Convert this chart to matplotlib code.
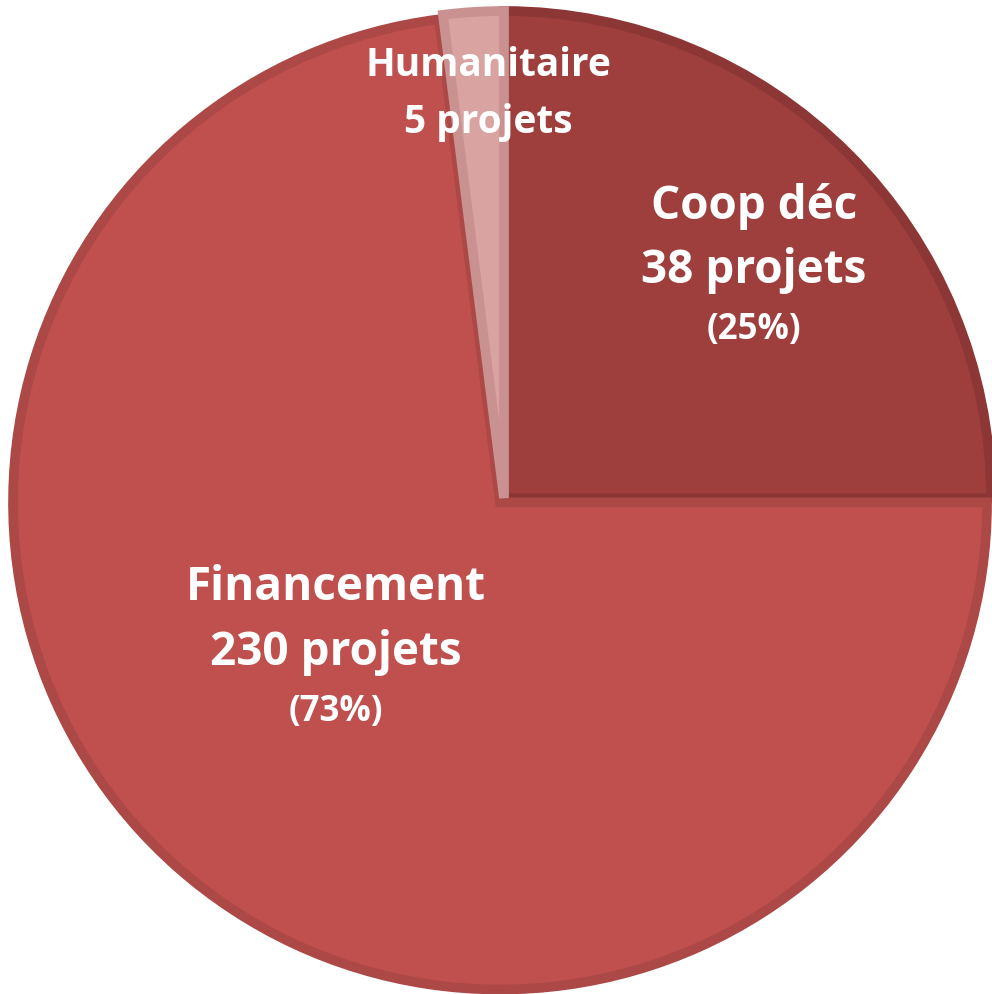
import matplotlib.pyplot as plt

# Data
categories = ['Coop déc', 'Financement', 'Humanitaire']
projets = [38, 230, 5]
pourcentages = [25, 73, 2]
show_pct = [True, True, False]

colors = ['#9E3F3E', '#C0504D', '#D9A3A2']
edge_colors = ['#8C3736', '#AC4846', '#C99291']

# label positions in pixel coords (x, y of first line), line gaps and font sizes
label_pos = [(754, 206), (336, 588), (488, 66)]
line_gap = [65, 64, 57]
label_size = [33, 33, 28]
pct_size = [25, 25, 0]

W, H = 992, 994
fig = plt.figure(figsize=(W / 100, H / 100), dpi=100)
ax = fig.add_axes([0, 0, 1, 1])

center = (504, H - 498)
radius = 487
explode = [0, 6, 0]

wedges, _ = ax.pie(pourcentages, colors=colors, startangle=90, counterclock=False,
                   center=center, radius=radius, explode=explode,
                   wedgeprops=dict(linewidth=0))
for w, ec in zip(wedges, edge_colors):
    w.set_edgecolor(ec)
    w.set_linewidth(7)
    w.set_joinstyle('miter')

ax.set_xlim(0, W)
ax.set_ylim(0, H)
ax.set_aspect('auto')
ax.axis('off')

font = ['Open Sans', 'DejaVu Sans']
for i, name in enumerate(categories):
    x, y = label_pos[i]
    ax.text(x, H - y, name, ha='center', va='center', color='white',
            fontsize=label_size[i], fontweight='bold', family=font)
    ax.text(x, H - y - line_gap[i], f'{projets[i]} projets', ha='center', va='center',
            color='white', fontsize=label_size[i], fontweight='bold', family=font)
    if show_pct[i]:
        ax.text(x, H - y - 124, f'({pourcentages[i]}%)', ha='center', va='center',
                color='white', fontsize=pct_size[i], fontweight='bold', family=font)

fig.savefig('out.png', dpi=100)
